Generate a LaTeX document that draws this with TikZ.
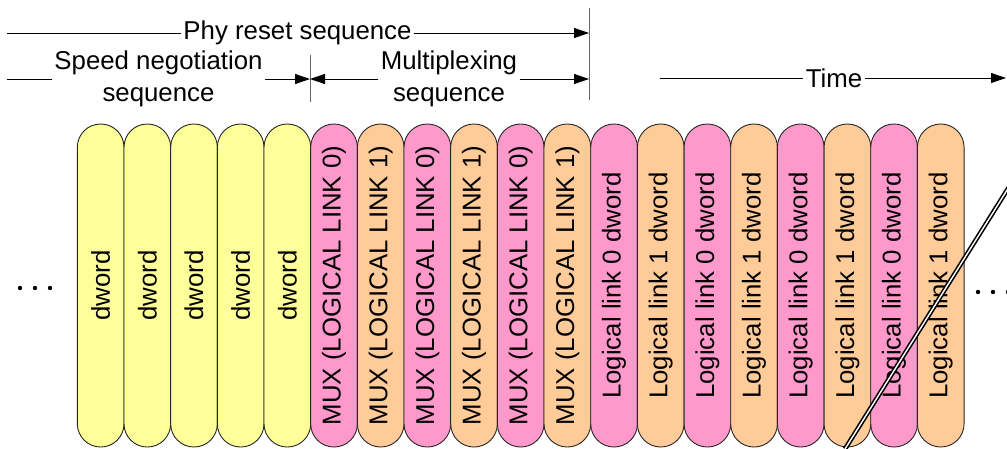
\documentclass[tikz,border=0pt]{standalone}
\usepackage{fontspec}
\setmainfont{Liberation Sans}
\usetikzlibrary{arrows.meta}

\definecolor{dwordyel}{HTML}{FFFF99}
\definecolor{linkpink}{HTML}{FF99CC}
\definecolor{linkorng}{HTML}{FFCC99}

\begin{document}
\begin{tikzpicture}[x=1pt, y=-1pt, line width=0.8pt, line join=round,
    txt/.style={inner sep=2pt, font=\fontsize{25.8}{32}\selectfont},
    pill/.style={draw=black!85, line width=0.9pt, rotate=90, inner sep=0pt,
                 minimum width=323pt, minimum height=46.67pt,
                 rounded corners=23.2pt, font=\fontsize{25.8}{30}\selectfont},
    tri/.style={-{Triangle[length=15pt,width=10pt]}},
    brk/.style={draw=black, line width=1.6pt, double=white, double distance=1.4pt}]

  %% ==== header: sequence spans ====
  \coordinate (phyL) at (7,33);
  \coordinate (b1) at (310,79);
  \coordinate (b2) at (589,33);
  \draw[black!60] (589,8) -- (589,100);
  \draw[black!60] (310,55) -- (310,102);

  \node[txt] (phy) at (297.5,33) {Phy reset sequence};
  \draw (phyL) -- (phy.west);
  \draw[tri] (phy.east) -- (phy.east -| b2);

  \node[txt, align=center] (spd) at (158.5,79) {Speed negotiation\\sequence};
  \draw (7,79) -- (spd.west);
  \draw[tri] (spd.east) -- (spd.east -| b1);

  \node[txt, align=center] (mpx) at (449,79) {Multiplexing\\sequence};
  \draw[tri] (mpx.west) -- (mpx.west -| b1);
  \draw[tri] (mpx.east) -- (mpx.east -| b2);

  %% time axis
  \node[txt] (tim) at (834,78) {Time};
  \draw (660,78) -- (tim.west);
  \draw[tri] (tim.east) -- (1006,78);

  %% ==== dword stream (19 pills) ====
  \foreach \lab/\col [count=\i] in {
      dword/dwordyel, dword/dwordyel, dword/dwordyel, dword/dwordyel, dword/dwordyel,
      MUX (LOGICAL LINK 0)/linkpink, MUX (LOGICAL LINK 1)/linkorng,
      MUX (LOGICAL LINK 0)/linkpink, MUX (LOGICAL LINK 1)/linkorng,
      MUX (LOGICAL LINK 0)/linkpink, MUX (LOGICAL LINK 1)/linkorng,
      Logical link 0 dword/linkpink, Logical link 1 dword/linkorng,
      Logical link 0 dword/linkpink, Logical link 1 dword/linkorng,
      Logical link 0 dword/linkpink, Logical link 1 dword/linkorng,
      Logical link 0 dword/linkpink, Logical link 1 dword/linkorng}
    \node[pill, fill=\col] (p\i) at ({100.67+46.67*(\i-1)},285.5) {\lab};

  %% ellipses before / after
  \foreach \x in {20,35,50}
    \fill (\x,288) circle (2.2pt);
  \foreach \x in {978,993,1008}
    \fill (\x,292) circle (2.2pt);

  %% break mark across the tail
  \coordinate (brkA) at (845,449);
  \coordinate (brkB) at (1009,187);
  \draw[brk] (brkA) -- (brkB);

  % fix the canvas to the reference size
  \pgfresetboundingbox
  \path[use as bounding box] (0,0) rectangle (1007,448);
\end{tikzpicture}
\end{document}
